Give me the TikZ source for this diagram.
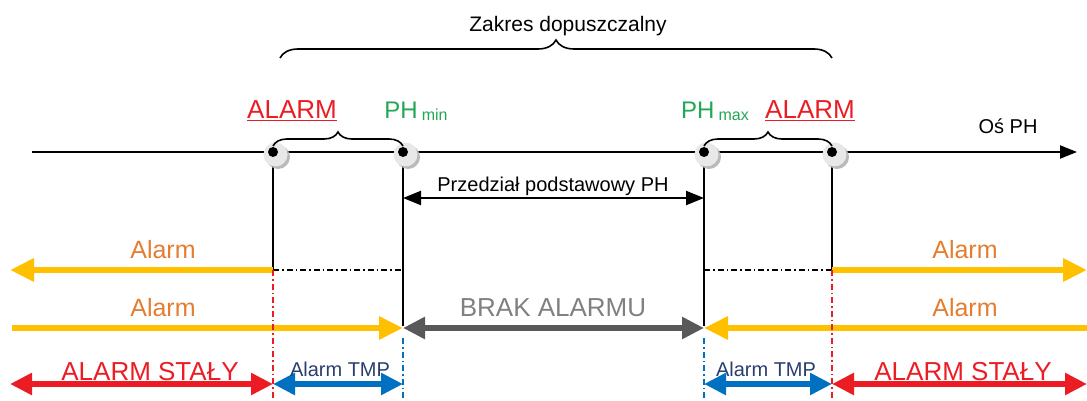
\documentclass[tikz,border=0pt]{standalone}
\usepackage{fontspec}
\setmainfont{Liberation Sans}
\usetikzlibrary{arrows.meta,positioning,decorations.pathreplacing,shadows}
\definecolor{alarmRed}{RGB}{235,28,36}
\definecolor{alarmOrange}{RGB}{228,125,48}
\definecolor{alarmYellow}{RGB}{255,192,0}
\definecolor{phGreen}{RGB}{34,168,84}
\definecolor{tmpBlue}{RGB}{0,112,192}
\definecolor{tmpText}{RGB}{40,62,110}
\definecolor{okGray}{RGB}{89,89,89}
\definecolor{okText}{RGB}{128,128,128}

\begin{document}
\begin{tikzpicture}[
    x=1pt, y=-1pt,
    fs/.style={font=\fontsize{#1}{#1}\selectfont},
    lbl/.style={anchor=base, inner sep=0pt},
    dot/.style={
        circle, inner sep=0pt, minimum size=24pt, fill=gray!18,
        drop shadow={shadow xshift=2.5pt, shadow yshift=-2.5pt, fill=gray!60, opacity=.9},
        path picture={\fill[black] ([xshift=-2.5pt,yshift=2.5pt]path picture bounding box.center) circle (5pt);}
    },
    axis/.style={line width=2.2pt, -{Triangle[length=17pt,width=13pt]}},
    guide/.style={line width=1.6pt},
    dashdot/.style={line width=1.6pt, dash pattern=on 6pt off 3pt on 1.5pt off 3pt},
    thick arrow/.style={line width=6pt, draw=#1,
        arrows={-{Triangle[length=24pt,width=22pt]}}},
    both arrow/.style={line width=6pt, draw=#1,
        arrows={{Triangle[length=22pt,width=21pt]}-{Triangle[length=22pt,width=21pt]}}},
    span/.style={line width=2.2pt, {Triangle[length=18pt,width=14pt]}-{Triangle[length=18pt,width=14pt]}},
    brace/.style={decorate, decoration={brace, amplitude=#1}, line width=1.6pt}
]
\useasboundingbox (0,0) rectangle (1087,401);

% axis
\coordinate (axL) at (32,152);
\coordinate (axR) at (1077,152);
\draw[axis] (axL) -- (axR);

% limit points
\coordinate (p1) at (273,152);
\coordinate (p2) at (403,152);
\coordinate (p3) at (704,152);
\coordinate (p4) at (832,152);

% vertical guides
\coordinate (v1) at (273,270);
\coordinate (v2) at (403,326);
\coordinate (v3) at (704,326);
\coordinate (v4) at (832,270);
\draw[guide] (p1) -- (v1);
\draw[guide] (p2) -- (v2);
\draw[guide] (p3) -- (v3);
\draw[guide] (p4) -- (v4);

\foreach \p in {p1,p2,p3,p4}
    \node[dot] at ([xshift=2.5pt,yshift=-2.5pt]\p) {};

% braces
\coordinate (bigL) at (280,58);
\coordinate (bigR) at (832,58);
\draw[brace=18pt] (bigL) -- (bigR);
\coordinate (smL1) at (273,146);
\coordinate (smR1) at (403,146);
\draw[brace=14pt] (smL1) -- (smR1);
\coordinate (smL2) at (704,146);
\coordinate (smR2) at (832,146);
\draw[brace=14pt] (smL2) -- (smR2);

% labels above the axis
\node[lbl, fs=21] (zakres) at (568,32) {Zakres dopuszczalny};
\node[lbl, fs=26, text=alarmRed] (alarmL) at (292,119) {\underline{ALARM}};
\node[lbl, fs=26, text=alarmRed] (alarmR) at (810,119) {\underline{ALARM}};
\node[lbl, fs=24, text=phGreen] (phmin) at (416,119) {PH\,{\fontsize{16}{16}\selectfont\raisebox{-2pt}{min}}};
\node[lbl, fs=24, text=phGreen] (phmax) at (715,119) {PH\,{\fontsize{16}{16}\selectfont\raisebox{-2pt}{max}}};
\node[lbl, fs=20] (os) at (1008,134) {Oś PH};

% base interval
\coordinate (b1) at (403,198);
\coordinate (b2) at (704,198);
\draw[span] (b1) -- (b2);
\node[lbl, fs=20] (przedzial) at (553,191) {Przedział podstawowy PH};

% row 1
\coordinate (r1L) at (10,270);
\coordinate (r1R) at (1087,270);
\draw[thick arrow=alarmYellow] (v1) -- (r1L);
\draw[thick arrow=alarmYellow] (v4) -- (r1R);
\draw[dashdot] (v1) -- (403,270);
\draw[dashdot] (704,270) -- (v4);
\node[lbl, fs=25, text=alarmOrange] (alarm1L) at (163,258) {Alarm};
\node[lbl, fs=25, text=alarmOrange] (alarm1R) at (965,258) {Alarm};

% row 2
\coordinate (r2L) at (12,328);
\coordinate (r2R) at (1087,328);
\coordinate (r2a) at (403,328);
\coordinate (r2b) at (704,328);
\draw[thick arrow=alarmYellow] (r2L) -- (r2a);
\draw[thick arrow=alarmYellow] (r2R) -- (r2b);
\draw[both arrow=okGray] (r2a) -- (r2b);
\node[lbl, fs=25, text=alarmOrange] (alarm2L) at (163,316) {Alarm};
\node[lbl, fs=25, text=alarmOrange] (alarm2R) at (965,316) {Alarm};
\node[lbl, fs=26, text=okText] (brak) at (553,316) {BRAK ALARMU};

% row 3
\coordinate (r3L) at (10,384);
\coordinate (r3R) at (1087,384);
\coordinate (r3a) at (273,384);
\coordinate (r3b) at (403,384);
\coordinate (r3c) at (704,384);
\coordinate (r3d) at (832,384);
\coordinate (e1) at (273,401);
\coordinate (e2) at (403,401);
\coordinate (e3) at (704,401);
\coordinate (e4) at (832,401);
\draw[dashdot, draw=alarmRed] (v1) -- (e1);
\draw[dashdot, draw=alarmRed] (v4) -- (e4);
\draw[dashdot, draw=tmpBlue] (403,338) -- (e2);
\draw[dashdot, draw=tmpBlue] (704,338) -- (e3);
\draw[both arrow=alarmRed] (r3L) -- (r3a);
\draw[both arrow=tmpBlue] (r3a) -- (r3b);
\draw[both arrow=tmpBlue] (r3c) -- (r3d);
\draw[both arrow=alarmRed] (r3d) -- (r3R);
\node[lbl, fs=26, text=alarmRed] (stalyL) at (150,380) {ALARM STAŁY};
\node[lbl, fs=26, text=alarmRed] (stalyR) at (963,380) {ALARM STAŁY};
\node[lbl, fs=20, text=tmpText] (tmpL) at (340,376) {Alarm TMP};
\node[lbl, fs=20, text=tmpText] (tmpR) at (766,376) {Alarm TMP};

\end{tikzpicture}
\end{document}
